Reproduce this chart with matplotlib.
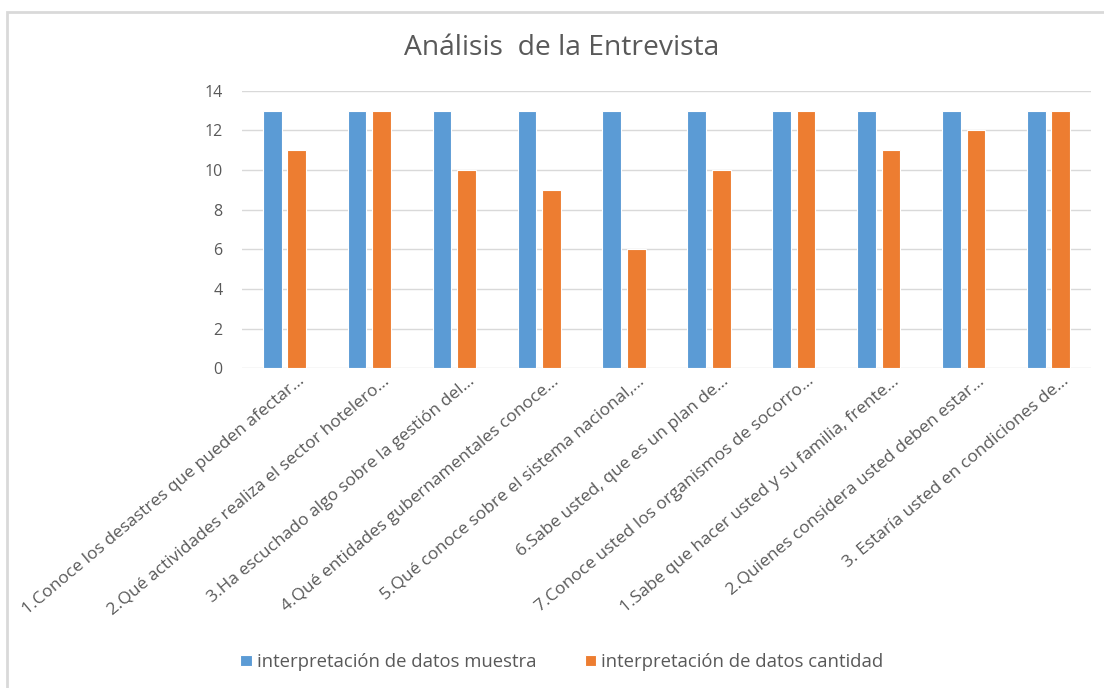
import numpy as np
import matplotlib
matplotlib.use('Agg')
import matplotlib.pyplot as plt
from matplotlib.patches import Rectangle
from matplotlib.transforms import ScaledTranslation

# Data
preguntas = [
    '1.Conoce los desastres que pueden afectar...',
    '2.Qué actividades realiza el sector hotelero...',
    '3.Ha escuchado algo sobre la gestión del...',
    '4.Qué entidades gubernamentales conoce...',
    '5.Qué conoce sobre el sistema nacional,...',
    '6.Sabe usted, que es un plan de...',
    '7.Conoce usted los organismos de socorro...',
    '1.Sabe que hacer usted y su familia, frente...',
    '2.Quienes considera usted deben estar...',
    '3. Estaría usted en condiciones de...',
]
muestra = [13, 13, 13, 13, 13, 13, 13, 13, 13, 13]
cantidad = [11, 13, 10, 9, 6, 10, 13, 11, 12, 13]
y_ticks = [0, 2, 4, 6, 8, 10, 12, 14]

plt.rcParams['font.family'] = ['Open Sans', 'DejaVu Sans']
gris = '#595959'
azul = '#5B9BD5'
naranja = '#ED7D31'

fig = plt.figure(figsize=(11.04, 6.88), dpi=100)
# light frame around the chart
fig.patches.append(Rectangle((7 / 1104, -0.05), 1.1, 1.05 - 12 / 688,
                             transform=fig.transFigure, fill=False,
                             edgecolor='#d9d9d9', linewidth=2))

ax = fig.add_axes([242 / 1104, 1 - 368.3 / 688, 849 / 1104, (368.3 - 90.7) / 688])
x = np.arange(len(preguntas))
w = 0.22
ax.bar(x - 0.144, muestra, w, color=azul, edgecolor='white', linewidth=0.8,
       label='interpretación de datos muestra', zorder=3)
ax.bar(x + 0.144, cantidad, w, color=naranja, edgecolor='white', linewidth=0.8,
       label='interpretación de datos cantidad', zorder=3)

ax.set_xlim(-0.5, len(preguntas) - 0.5)
ax.set_ylim(0, 14)
ax.set_yticks(y_ticks)
ax.yaxis.grid(True, color='#d9d9d9', linewidth=1, zorder=0)
for s in ax.spines.values():
    s.set_visible(False)
ax.tick_params(axis='both', length=0, colors=gris, labelsize=11.5)
ax.tick_params(axis='y', pad=14)
ax.set_xticks(x)
ax.set_xticklabels(preguntas, rotation=40, ha='right', va='top',
                   rotation_mode='anchor', fontsize=12.5, color=gris)
shift = ScaledTranslation(13 / 100, 0, fig.dpi_scale_trans)
for lab in ax.get_xticklabels():
    lab.set_transform(lab.get_transform() + shift)

fig.text(0.509, 1 - 48 / 688, 'Análisis  de la Entrevista', ha='center', va='center',
         fontsize=20.3, color=gris)

fig.legend(loc='center', bbox_to_anchor=(0.509, 1 - 662 / 688), ncol=2,
           frameon=False, fontsize=13.3, labelcolor=gris, handlelength=0.6,
           handleheight=0.6, handletextpad=0.3, columnspacing=2.6)

fig.savefig('out.png', dpi=100)
